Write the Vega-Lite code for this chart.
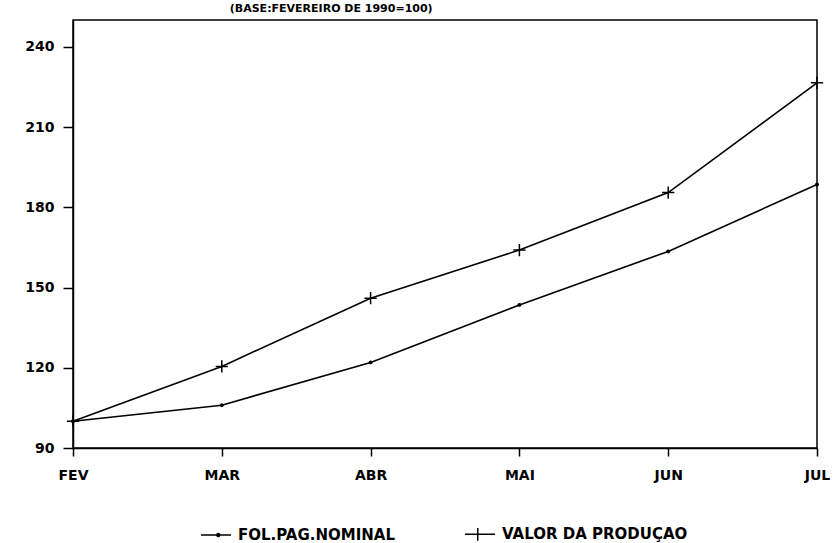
{
  "$schema": "https://vega.github.io/schema/vega-lite/v6.json",
  "width": 744,
  "height": 428,
  "autosize": {"type": "none"},
  "padding": {"left": 73, "top": 20, "right": 19, "bottom": 95},
  "background": "white",
  "title": {
    "text": "(BASE:FEVEREIRO DE 1990=100)",
    "anchor": "start",
    "dx": 205,
    "offset": -5,
    "baseline": "bottom",
    "fontSize": 11,
    "font": "DejaVu Sans",
    "fontWeight": "bold",
    "color": "black"
  },
  "data": {
    "values": [
      {"mes": "FEV", "serie": "FOL.PAG.NOMINAL", "valor": 100},
      {"mes": "MAR", "serie": "FOL.PAG.NOMINAL", "valor": 106},
      {"mes": "ABR", "serie": "FOL.PAG.NOMINAL", "valor": 122},
      {"mes": "MAI", "serie": "FOL.PAG.NOMINAL", "valor": 143.5},
      {"mes": "JUN", "serie": "FOL.PAG.NOMINAL", "valor": 163.5},
      {"mes": "JUL", "serie": "FOL.PAG.NOMINAL", "valor": 188.5},
      {"mes": "FEV", "serie": "VALOR DA PRODUÇAO", "valor": 100},
      {"mes": "MAR", "serie": "VALOR DA PRODUÇAO", "valor": 120.5},
      {"mes": "ABR", "serie": "VALOR DA PRODUÇAO", "valor": 146},
      {"mes": "MAI", "serie": "VALOR DA PRODUÇAO", "valor": 164},
      {"mes": "JUN", "serie": "VALOR DA PRODUÇAO", "valor": 185.5},
      {"mes": "JUL", "serie": "VALOR DA PRODUÇAO", "valor": 226.5}
    ]
  },
  "encoding": {
    "x": {
      "field": "mes",
      "type": "ordinal",
      "sort": ["FEV", "MAR", "ABR", "MAI", "JUN", "JUL"],
      "scale": {"type": "point", "padding": 0},
      "axis": {
        "title": null,
        "labelAngle": 0,
        "tickSize": 8,
        "labelPadding": 12,
        "labelFlush": false
      }
    },
    "y": {
      "field": "valor",
      "type": "quantitative",
      "scale": {"domain": [90, 250], "nice": false, "zero": false},
      "axis": {
        "title": null,
        "values": [90, 120, 150, 180, 210, 240],
        "tickSize": 10,
        "labelPadding": 9
      }
    }
  },
  "layer": [
    {
      "mark": {"type": "line", "strokeWidth": 1.6},
      "encoding": {
        "color": {
          "field": "serie",
          "type": "nominal",
          "sort": ["FOL.PAG.NOMINAL", "VALOR DA PRODUÇAO"],
          "scale": {"domain": ["FOL.PAG.NOMINAL", "VALOR DA PRODUÇAO"], "range": ["black", "black"]},
          "legend": {
            "title": null,
            "orient": "none",
            "direction": "horizontal",
            "legendX": 127,
            "legendY": 498,
            "symbolSize": 900,
            "symbolStrokeWidth": 1.5,
            "symbolStrokeColor": "black",
            "symbolFillColor": "transparent",
            "columnPadding": 66,
            "labelOffset": 6,
            "labelFont": "DejaVu Sans",
            "labelFontWeight": "bold",
            "labelFontSize": 15,
            "labelColor": "black",
            "labelLimit": 400,
            "encode": {
              "symbols": {
                "update": {
                  "shape": {"signal": "datum.value === 'FOL.PAG.NOMINAL' ? 'M-1,0H1M0.05,0A0.1,0.1 0 1,0 0.25,0A0.1,0.1 0 1,0 0.05,0' : 'M-1,0H1M-0.15,-0.42V0.42'"},
                  "stroke": {"value": "black"},
                  "strokeWidth": {"value": 1.5}
                }
              }
            }
          }
        }
      }
    },
    {
      "transform": [{"filter": "datum.serie === 'FOL.PAG.NOMINAL'"}],
      "mark": {"type": "point", "shape": "circle", "size": 6, "filled": false, "strokeWidth": 1.5, "color": "black", "opacity": 1}
    },
    {
      "transform": [{"filter": "datum.serie === 'VALOR DA PRODUÇAO'"}],
      "mark": {"type": "point", "shape": "M-1,0H1M0,-1V1", "size": 150, "filled": false, "strokeWidth": 1.5, "color": "black", "opacity": 1}
    }
  ],
  "config": {
    "view": {"stroke": "black", "strokeWidth": 1.5},
    "axis": {
      "domainColor": "black",
      "domainWidth": 1.5,
      "tickColor": "black",
      "tickWidth": 1.5,
      "grid": false,
      "labelFont": "DejaVu Sans",
      "labelFontWeight": "bold",
      "labelFontSize": 14,
      "labelColor": "black"
    }
  }
}
